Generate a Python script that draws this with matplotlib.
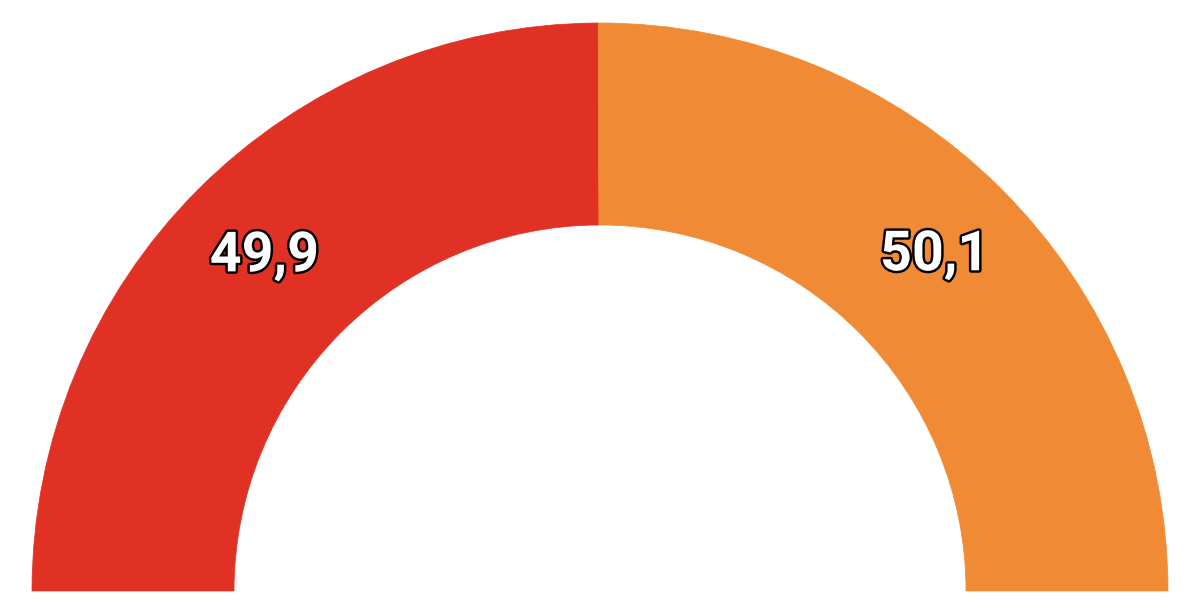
import numpy as np
import matplotlib.pyplot as plt
from matplotlib.patches import Wedge
import matplotlib.patheffects as pe

labels = ["49,9", "50,1"]
values = [49.9, 50.1]
colors = ["#E13124", "#F08A34"]

CENTER = (600, 22)
R_OUT = 568
R_IN = 366
LABEL_R = 474

fig = plt.figure(figsize=(12, 6.13), dpi=100)
ax = fig.add_axes([0, 0, 1, 1])
ax.set_xlim(0, 1200)
ax.set_ylim(0, 613)
ax.set_aspect("equal")
ax.axis("off")

total = sum(values)
start = 180.0
for lab, val, col in zip(labels, values, colors):
    span = val / total * 180.0
    end = start - span
    w = Wedge(CENTER, R_OUT, end, start, width=R_OUT - R_IN,
              facecolor=col, edgecolor=col, linewidth=0.5)
    ax.add_patch(w)

    # label at the middle of the slice
    mid = np.deg2rad((start + end) / 2)
    x = CENTER[0] + LABEL_R * np.cos(mid)
    y = CENTER[1] + LABEL_R * np.sin(mid)
    ax.text(x, y, lab, ha="center", va="center", fontsize=40,
            fontweight="bold", family="Roboto", color="white",
            path_effects=[pe.withStroke(linewidth=3.5, foreground="black")])
    start = end

fig.savefig("out.png", dpi=100)
